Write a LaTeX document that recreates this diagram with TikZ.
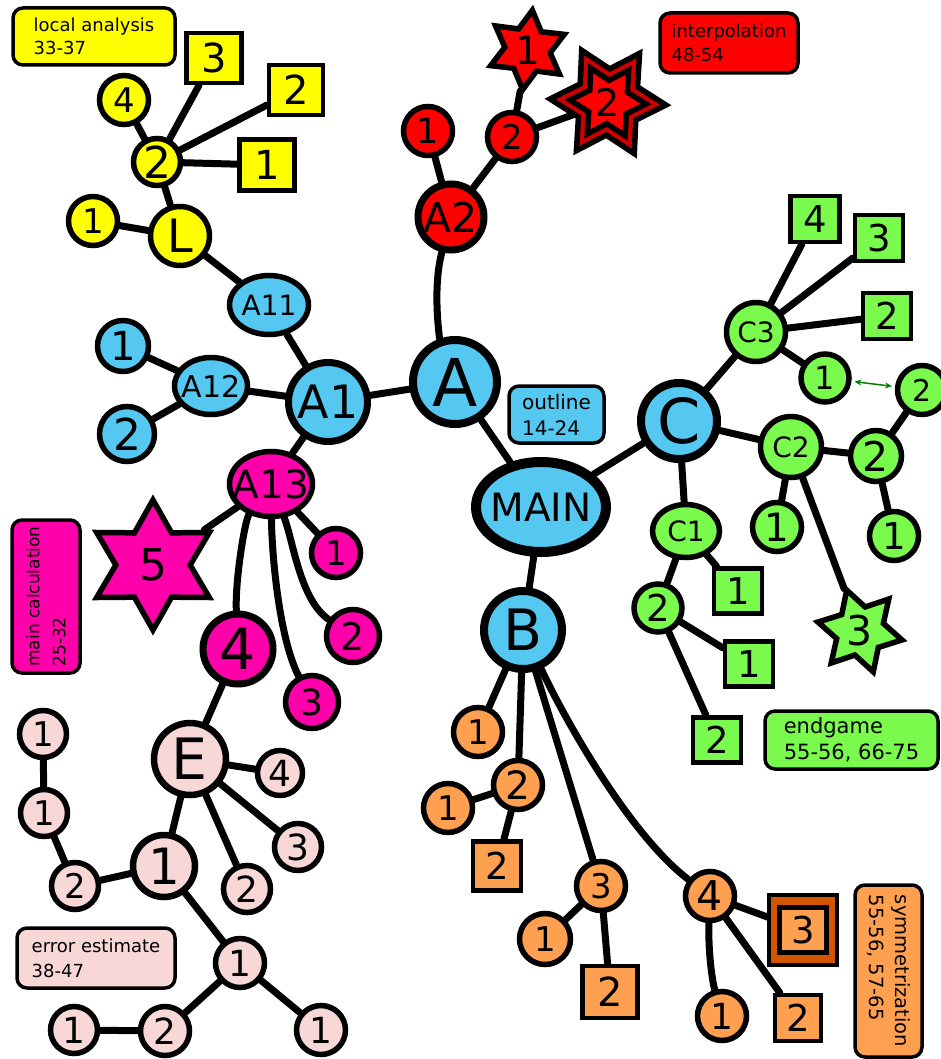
\documentclass[tikz,border=0pt]{standalone}
\usepackage{fontspec}
\setmainfont{DejaVu Sans}
\usetikzlibrary{shapes.geometric,backgrounds,arrows.meta}
\newcommand{\myfs}[1]{\fontsize{#1}{#1}\selectfont}
\newcommand{\zb}[1]{\makebox[0pt]{#1}}
\definecolor{cblue}{RGB}{84,200,240}
\definecolor{cyellow}{RGB}{255,255,0}
\definecolor{cred}{RGB}{255,0,0}
\definecolor{cdred}{RGB}{204,0,0}
\definecolor{cmag}{RGB}{255,0,170}
\definecolor{cpink}{RGB}{248,215,215}
\definecolor{cgreen}{RGB}{122,250,76}
\definecolor{corange}{RGB}{255,160,80}
\definecolor{cdorange}{RGB}{212,85,0}
\definecolor{carrow}{RGB}{0,128,0}
\tikzset{
 nd/.style={draw=black, line width=5.5pt, inner sep=0pt, font=\myfs{36}},
 cc/.style={nd, circle, minimum size=#1},
 sq/.style 2 args={nd, rectangle, line width=4.5pt, minimum width=#1, minimum height=#2},
 el/.style 2 args={nd, ellipse, minimum width=#1, minimum height=#2},
 st/.style 2 args={nd, star, star points=6, star point ratio=1.75, minimum size=#1, shape border rotate=#2},
 bx/.style={draw=black, line width=3.5pt, rounded corners=10pt, inner sep=0pt, align=left},
 ed/.style={line width=7pt, draw=black, line cap=round},
 fs/.style={font=\myfs{#1}},
 bfs/.style 2 args={font=\fontsize{#1}{#2}\selectfont},
 fB/.style={fill=cblue}, fY/.style={fill=cyellow}, fR/.style={fill=cred},
 fM/.style={fill=cmag}, fP/.style={fill=cpink}, fG/.style={fill=cgreen},
 fO/.style={fill=corange}
}
\begin{document}
\begin{tikzpicture}[x=1pt,y=-1pt]
\useasboundingbox (0,0) rectangle (940,1059);
% blue
\node[el={130}{90}, fB, line width=10pt, fs=39] (main) at (541,507) {\zb{MAIN}};
\node[cc=84, fB, line width=8pt, fs=66] (A) at (455,382) {A};
\node[cc=79, fB, line width=7pt, fs=46] (A1) at (328,402) {A1};
\node[el={79}{59}, fB, fs=28] (A11) at (269,305) {\zb{A11}};
\node[el={73}{57}, fB, fs=30] (A12) at (211,386) {\zb{A12}};
\node[cc=51, fB, fs=40] (b1) at (123,346) {1};
\node[cc=55, fB, fs=44] (b2) at (127,434) {2};
\node[cc=78, fB, line width=8pt, fs=57] (B) at (523,630) {B};
\node[cc=76, fB, line width=8pt, fs=62] (C) at (679,421) {C};
\node[bx, fB, minimum width=95, minimum height=57, bfs={20}{26}] (outl) at (556.5,414.5) {outline\\14-24};
% yellow
\node[cc=59, fY, fs=46] (L) at (180,236) {L};
\node[cc=49, fY, fs=34] (y1) at (93,221) {1};
\node[cc=47, fY, fs=44] (y2) at (157,162) {2};
\node[cc=49, fY, fs=34] (y4) at (124,100) {4};
\node[sq={55}{50}, fY, fs=40] (ys3) at (214,58) {3};
\node[sq={54}{50}, fY, fs=40] (ys2) at (296,90) {2};
\node[sq={55}{51}, fY, fs=40] (ys1) at (267,165) {1};
\node[bx, fY, minimum width=162, minimum height=57, bfs={18}{23}] (ybox) at (94,36.5) {local analysis\\33-37};
% red
\node[cc=66, fR, line width=7pt, fs=41] (A2) at (451,217) {A2};
\node[cc=49, fR, fs=35] (r1) at (428,131) {1};
\node[cc=49, fR, fs=34] (r2) at (512,137) {2};
\node[st={80}{-7}, fR, fs=39] (rs1) at (527.5,50) {1};
\node[st={116}{27}, fill=cdred] (rs2o) at (608,102) {};
\node[st={76}{27}, fR, fs=38] (rs2) at (608,102) {2};
\node[bx, fR, minimum width=138, minimum height=60, bfs={18}{24}] (rbox) at (729,43) {interpolation\\48-54};
% magenta
\node[el={83}{65}, fM, fs=39] (A13) at (271,484) {\zb{A13}};
\node[cc=49, fM, fs=34] (m1) at (336,553) {1};
\node[cc=53, fM, fs=38] (m2) at (353,636) {2};
\node[cc=53, fM, fs=36] (m3) at (312,702) {3};
\node[cc=70, fM, line width=7pt, fs=57] (m4) at (238,649) {4};
\node[st={130}{0}, fM, fs=44] (m5) at (153,565) {5};
\node[bx, fM, rotate=90, minimum width=153, minimum height=68, bfs={17}{26}] (mbox) at (46,596.5) {main calculation\\25-32};
% pink
\node[cc=72, fP, line width=6.5pt, fs=57] (E) at (190,759) {E};
\node[cc=45, fP, fs=36] (e4) at (280,773) {4};
\node[cc=47, fP, fs=36] (e3) at (298,847) {3};
\node[cc=47, fP, fs=36] (e2) at (247,889) {2};
\node[cc=62, fP, line width=6.5pt, fs=50] (e1) at (164,866) {1};
\node[cc=47, fP, fs=34] (p1a) at (43,734) {1};
\node[cc=47, fP, fs=34] (p1b) at (44,813) {1};
\node[cc=47, fP, fs=34] (p2) at (75,886) {2};
\node[cc=49, fP, fs=36] (p1c) at (240,963) {1};
\node[cc=49, fP, fs=36] (p1d) at (321,1030) {1};
\node[cc=49, fP, fs=36] (p2b) at (165,1031) {2};
\node[cc=47, fP, fs=36] (p1e) at (74,1030) {1};
\node[bx, fP, minimum width=158, minimum height=60, bfs={18}{25}] (pbox) at (96,958) {error estimate\\38-47};
% green
\node[cc=59, fG, fs=28] (C3) at (756,332) {C3};
\node[sq={49}{46}, fG, fs=37] (gs4) at (815,219) {4};
\node[sq={48}{46}, fG, fs=37] (gs3) at (879,238) {3};
\node[sq={48}{46}, fG, fs=37] (gs2) at (887,316) {2};
\node[cc=48, fG, fs=32] (g31) at (825,378) {1};
\node[cc=49, fG, fs=30] (g2r) at (922,390) {2};
\node[cc=61, fG, fs=28] (C2) at (791,447) {C2};
\node[cc=51, fG, fs=41] (g22) at (876,456) {2};
\node[cc=49, fG, fs=39] (g21) at (777,527) {1};
\node[cc=49, fG, fs=37] (g221) at (894,536) {1};
\node[el={67}{53}, fG, fs=28] (C1) at (686,531) {\zb{C1}};
\node[sq={48}{45}, fG, fs=37] (gs11) at (738,591) {1};
\node[cc=48, fG, fs=37] (g12) at (658,608) {2};
\node[sq={48}{45}, fG, fs=37] (gs121) at (749,664) {1};
\node[sq={48}{45}, fG, fs=37] (gs122) at (717,740) {2};
\node[st={86}{18}, fG, fs=41] (g3s) at (860,631) {3};
\node[bx, fG, minimum width=173, minimum height=58, bfs={21}{26}] (gbox) at (851.5,740) {endgame\\55-56, 66-75};
% orange
\node[cc=49, fO, fs=34] (o1) at (478,732) {1};
\node[cc=49, fO, fs=39] (o2) at (518,785) {2};
\node[cc=49, fO, fs=34] (o1l) at (448,808) {1};
\node[sq={48}{49}, fO, fs=37] (os2) at (497,866) {2};
\node[cc=49, fO, fs=34] (o3) at (601,886) {3};
\node[cc=51, fO, fs=34] (o31) at (545,939) {1};
\node[sq={55}{52}, fO, fs=40] (os32) at (610,992) {2};
\node[cc=49, fO, fs=41] (o4) at (710,896) {4};
\node[cc=49, fO, fs=36] (o41) at (722,1016) {1};
\node[sq={46}{46}, fO, fs=37] (os42) at (798,1018) {2};
\node[sq={68}{70}, fill=cdorange] (os43o) at (803,930) {};
\node[sq={47}{45}, fO, fs=37] (os43) at (803,930) {3};
\node[bx, fO, rotate=-90, minimum width=172, minimum height=67, bfs={19.5}{26}] (obox) at (888.5,971) {symmetrization\\55-56, 57-65};
% green arrow
\draw[carrow, line width=1.5pt, {Stealth[length=7pt,width=6pt]}-{Stealth[length=7pt,width=6pt]}, shorten >=3pt, shorten <=3pt] (g31) -- (g2r);
% edges
\begin{pgfonlayer}{background}
\draw[ed] (main) -- (A);
\draw[ed] (main) -- (C);
\draw[ed] (main) -- (B);
\draw[ed] (A) -- (A1);
\draw[ed] (A) .. controls (440,340) and (432,290) .. (A2);
\draw[ed] (A1) -- (A11);
\draw[ed] (A1) -- (A12);
\draw[ed] (A1) -- (A13);
\draw[ed] (A12) -- (b1);
\draw[ed] (A12) -- (b2);
\draw[ed] (A11) -- (L);
\draw[ed] (L) -- (y1);
\draw[ed] (L) -- (y2);
\draw[ed] (y2) -- (y4);
\draw[ed] (y2) -- (ys3);
\draw[ed] (y2) -- (ys2);
\draw[ed] (y2) -- (ys1);
\draw[ed] (A2) -- (r1);
\draw[ed] (A2) -- (r2);
\draw[ed] (r2) -- (rs1);
\draw[ed] (r2) -- (rs2);
\draw[ed] (A13) -- (m5);
\draw[ed] (A13) -- (m1);
\draw[ed] (A13) .. controls (245,520) and (235,580) .. (m4);
\draw[ed] (A13) .. controls (272,560) and (280,640) .. (m3);
\draw[ed] (A13) .. controls (293,540) and (300,600) .. (m2);
\draw[ed] (m4) -- (E);
\draw[ed] (E) -- (e4);
\draw[ed] (E) -- (e3);
\draw[ed] (E) -- (e2);
\draw[ed] (E) -- (e1);
\draw[ed] (e1) -- (p2);
\draw[ed] (p2) -- (p1b);
\draw[ed] (p1b) -- (p1a);
\draw[ed] (e1) -- (p1c);
\draw[ed] (p1c) -- (p1d);
\draw[ed] (p1c) -- (p2b);
\draw[ed] (p2b) -- (p1e);
\draw[ed] (C) -- (C3);
\draw[ed] (C) -- (C2);
\draw[ed] (C) -- (C1);
\draw[ed] (C3) -- (gs4);
\draw[ed] (C3) -- (gs3);
\draw[ed] (C3) -- (gs2);
\draw[ed] (C3) -- (g31);
\draw[ed] (C2) -- (g22);
\draw[ed] (g22) -- (g2r);
\draw[ed] (g22) -- (g221);
\draw[ed] (C2) -- (g21);
\draw[ed] (C2) -- (g3s);
\draw[ed] (C1) -- (gs11);
\draw[ed] (C1) -- (g12);
\draw[ed] (g12) -- (gs121);
\draw[ed] (g12) -- (gs122);
\draw[ed] (B) -- (o1);
\draw[ed] (B) -- (o2);
\draw[ed] (B) -- (o3);
\draw[ed] (B) .. controls (565,720) and (630,835) .. (o4);
\draw[ed] (o2) -- (o1l);
\draw[ed] (o2) -- (os2);
\draw[ed] (o3) -- (o31);
\draw[ed] (o3) -- (os32);
\draw[ed] (o4) .. controls (708,950) and (712,980) .. (o41);
\draw[ed] (o4) -- (os42);
\draw[ed] (o4) -- (os43);
\end{pgfonlayer}
\end{tikzpicture}
\end{document}
